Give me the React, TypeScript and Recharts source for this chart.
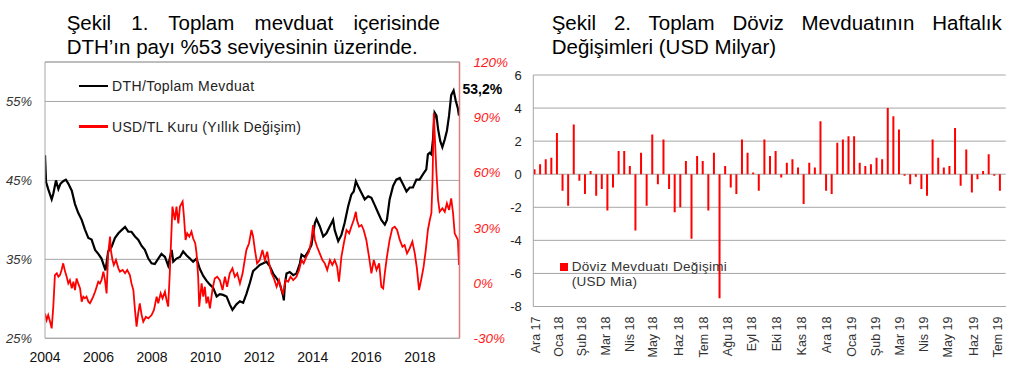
import {
  Bar,
  BarChart,
  CartesianGrid,
  LabelList,
  Legend,
  Line,
  LineChart,
  ReferenceLine,
  XAxis,
  YAxis,
} from "recharts";

const FONT = '"Liberation Sans", Arial, sans-serif';

// Şekil 1 — DTH share of total deposits (%) and USD/TL yearly change (%)
const dthPoints: [number, number][] = [
  [2004.0, 48.2], [2004.04, 44.8], [2004.12, 43.9], [2004.25, 42.6], [2004.31, 43.3], [2004.41, 45.0],
  [2004.5, 43.9], [2004.58, 44.6], [2004.68, 44.9], [2004.78, 45.1], [2004.87, 44.6], [2005.0, 43.7],
  [2005.12, 42.0], [2005.24, 40.9], [2005.37, 40.0], [2005.49, 38.8], [2005.62, 37.7], [2005.74, 37.5],
  [2005.87, 36.2], [2005.99, 35.7], [2006.11, 35.1], [2006.2, 34.2], [2006.26, 33.6], [2006.36, 36.0],
  [2006.49, 36.6], [2006.61, 37.7], [2006.74, 38.3], [2006.86, 38.7], [2006.99, 39.1], [2007.11, 38.5],
  [2007.23, 38.5], [2007.36, 37.9], [2007.48, 37.5], [2007.61, 36.7], [2007.73, 36.2], [2007.86, 35.1],
  [2007.98, 34.5], [2008.1, 34.4], [2008.23, 35.1], [2008.35, 35.7], [2008.48, 35.3], [2008.6, 34.2],
  [2008.73, 36.2], [2008.79, 34.7], [2008.91, 35.1], [2009.04, 35.3], [2009.16, 36.0], [2009.29, 35.5],
  [2009.41, 35.1], [2009.53, 34.7], [2009.66, 35.1], [2009.78, 33.8], [2009.91, 32.9], [2010.03, 32.3],
  [2010.16, 31.8], [2010.28, 31.4], [2010.41, 30.3], [2010.53, 30.6], [2010.65, 30.5], [2010.78, 30.3],
  [2010.9, 29.3], [2011.0, 28.6], [2011.15, 29.3], [2011.28, 29.7], [2011.4, 29.5], [2011.52, 30.6],
  [2011.65, 32.0], [2011.77, 33.5], [2011.9, 33.9], [2012.02, 34.3], [2012.15, 34.5], [2012.27, 34.7],
  [2012.4, 34.1], [2012.52, 33.2], [2012.65, 32.6], [2012.77, 31.9], [2012.89, 30.4], [2012.92, 29.8],
  [2012.96, 31.9], [2013.02, 33.2], [2013.14, 33.4], [2013.27, 33.0], [2013.39, 33.2], [2013.52, 34.5],
  [2013.58, 35.6], [2013.7, 35.3], [2013.83, 36.0], [2013.95, 36.8], [2014.08, 39.6], [2014.14, 40.1],
  [2014.26, 39.2], [2014.39, 37.9], [2014.51, 38.3], [2014.64, 39.2], [2014.76, 40.0], [2014.82, 38.7],
  [2014.95, 37.3], [2015.07, 38.1], [2015.19, 39.6], [2015.32, 41.7], [2015.44, 43.2], [2015.53, 43.6],
  [2015.61, 44.9], [2015.69, 44.3], [2015.82, 43.4], [2015.94, 42.6], [2016.07, 43.0], [2016.19, 42.8],
  [2016.31, 41.9], [2016.44, 40.9], [2016.56, 40.0], [2016.69, 39.4], [2016.77, 40.0], [2016.87, 42.6],
  [2017.0, 44.3], [2017.12, 45.1], [2017.25, 45.3], [2017.37, 44.5], [2017.5, 43.6], [2017.62, 44.1],
  [2017.74, 44.1], [2017.87, 45.1], [2017.99, 45.1], [2018.12, 45.8], [2018.24, 46.4], [2018.3, 48.3],
  [2018.37, 48.5], [2018.43, 48.3], [2018.49, 50.2], [2018.55, 53.6], [2018.62, 53.2], [2018.68, 51.5],
  [2018.76, 50.0], [2018.84, 49.2], [2018.93, 50.2], [2019.01, 51.3], [2019.09, 53.2], [2019.17, 55.8],
  [2019.26, 56.4], [2019.34, 55.1], [2019.42, 54.1], [2019.46, 53.2],
];

const usdTryPoints: [number, number][] = [
  [2004.0, -16.5], [2004.06, -20.1], [2004.12, -17.4], [2004.19, -21.0], [2004.25, -24.6], [2004.31, -12.8],
  [2004.37, 4.3], [2004.44, 5.3], [2004.5, 3.4], [2004.56, 4.3], [2004.62, 7.1], [2004.68, 10.7],
  [2004.75, 6.2], [2004.81, 3.4], [2004.87, -0.2], [2004.93, 1.6], [2005.0, -2.9], [2005.06, 0.7],
  [2005.12, -3.8], [2005.18, 2.5], [2005.24, -0.2], [2005.31, -2.9], [2005.37, -10.1], [2005.43, -7.4],
  [2005.49, -8.3], [2005.55, -7.4], [2005.62, -10.1], [2005.68, -11.0], [2005.74, -9.2], [2005.8, -7.4],
  [2005.87, -4.7], [2005.93, -2.0], [2005.99, 0.7], [2006.05, -0.2], [2006.11, 1.6], [2006.18, 6.2],
  [2006.24, 1.6], [2006.3, -5.6], [2006.36, 16.1], [2006.43, 25.2], [2006.46, 17.9], [2006.52, 12.5],
  [2006.57, 9.8], [2006.65, 12.5], [2006.74, 8.0], [2006.8, 6.2], [2006.9, 7.1], [2006.99, 5.3],
  [2007.07, 7.1], [2007.17, 4.3], [2007.23, -0.2], [2007.3, -3.8], [2007.36, -14.6], [2007.42, -23.7],
  [2007.48, -16.5], [2007.54, -11.0], [2007.61, -17.4], [2007.67, -21.0], [2007.77, -18.3], [2007.86, -19.2],
  [2007.98, -17.4], [2008.07, -14.6], [2008.17, -7.4], [2008.23, -11.0], [2008.32, -5.6], [2008.39, -8.3],
  [2008.48, -4.7], [2008.54, -9.2], [2008.6, -12.8], [2008.66, 5.3], [2008.73, 30.6], [2008.76, 41.5],
  [2008.85, 34.2], [2008.91, 41.5], [2008.98, 32.4], [2009.04, 41.5], [2009.14, 44.2], [2009.19, 36.0],
  [2009.25, 23.4], [2009.31, 27.0], [2009.39, 25.2], [2009.47, 27.9], [2009.53, 24.3], [2009.61, 21.6],
  [2009.66, 16.1], [2009.72, 3.4], [2009.76, -12.8], [2009.85, -0.2], [2009.91, -7.4], [2009.97, -2.0],
  [2010.03, -11.0], [2010.09, -7.4], [2010.16, -13.7], [2010.26, -2.9], [2010.34, 2.5], [2010.43, 3.4],
  [2010.53, 1.6], [2010.63, -3.8], [2010.72, 3.4], [2010.8, -2.0], [2010.9, 5.3], [2011.0, 8.0],
  [2011.09, 3.4], [2011.18, 5.3], [2011.28, -0.2], [2011.38, 5.3], [2011.46, 12.5], [2011.52, 17.9],
  [2011.62, 21.6], [2011.71, 28.8], [2011.77, 25.5], [2011.84, 17.9], [2011.92, 10.7], [2012.02, 12.5],
  [2012.12, 17.9], [2012.21, 12.5], [2012.3, 17.0], [2012.37, 10.7], [2012.46, 5.3], [2012.55, 2.5],
  [2012.65, -2.0], [2012.74, 1.6], [2012.83, -3.8], [2012.89, -5.6], [2012.99, 1.6], [2013.08, 0.7],
  [2013.17, 3.4], [2013.27, 1.6], [2013.39, 3.4], [2013.49, 7.1], [2013.58, 12.5], [2013.66, 10.7],
  [2013.76, 14.3], [2013.86, 17.0], [2013.95, 23.4], [2014.01, 31.5], [2014.08, 23.4], [2014.16, 19.7],
  [2014.26, 16.1], [2014.36, 12.5], [2014.45, 10.7], [2014.54, 7.1], [2014.64, 12.5], [2014.73, 9.8],
  [2014.82, 12.5], [2014.91, 8.9], [2014.98, 0.7], [2015.07, 14.3], [2015.16, 21.6], [2015.26, 28.8],
  [2015.36, 27.0], [2015.44, 30.6], [2015.53, 34.2], [2015.61, 38.7], [2015.65, 34.2], [2015.73, 30.6],
  [2015.82, 31.5], [2015.9, 28.8], [2016.0, 23.4], [2016.1, 14.3], [2016.19, 5.3], [2016.28, 12.5],
  [2016.38, 7.1], [2016.48, 10.7], [2016.56, -2.0], [2016.63, -2.9], [2016.69, 5.3], [2016.77, 14.3],
  [2016.87, 23.4], [2016.97, 29.7], [2017.06, 30.6], [2017.15, 28.8], [2017.25, 23.4], [2017.35, 19.7],
  [2017.43, 20.6], [2017.52, 16.1], [2017.62, 18.8], [2017.72, 22.5], [2017.81, 16.1], [2017.89, 8.0],
  [2017.97, -3.8], [2018.06, 2.5], [2018.14, 8.9], [2018.22, 17.9], [2018.3, 28.8], [2018.37, 34.2],
  [2018.43, 37.9], [2018.47, 54.1], [2018.52, 92.1], [2018.57, 75.8], [2018.62, 59.6], [2018.68, 45.1],
  [2018.74, 38.7], [2018.84, 40.6], [2018.93, 38.7], [2019.01, 43.3], [2019.09, 39.7], [2019.17, 46.0],
  [2019.24, 37.9], [2019.3, 27.0], [2019.36, 25.2], [2019.42, 23.4], [2019.46, 9.8],
];

const yearTicks = [2004, 2006, 2008, 2010, 2012, 2014, 2016, 2018];
const shareTicks = [25, 35, 45, 55];
const fxTicks = [-30, 0, 30, 60, 90, 120];

// Şekil 2 — weekly change of FX deposits (USD bn)
const weeklyChanges = [
  0.3, 0.6, 0.9, 1.0, 2.5, -1.0, -1.9, 3.0, -0.4, -1.2, 0.2, -1.3, -0.9, -2.2, -0.8, 1.4, 1.4, 0.5,
  -3.4, 1.3, -1.9, 2.4, -0.6, 2.1, -0.9, -2.3, -2.0, 0.8, -3.9, 1.1, 0.8, -2.2, 1.3, -7.5, 0.5, -0.8,
  -1.2, 2.1, 1.3, 0.1, -1.0, 2.1, 1.1, 1.4, -0.2, 0.7, 0.9, 0.4, -1.8, 0.7, 0.4, 3.2, -1.0, -1.2,
  1.9, 2.1, 2.3, 2.3, 0.7, 0.5, 0.6, 1.0, 0.9, 4.0, 3.5, 2.7, -0.1, -0.6, -0.15, -0.9, -1.3, 2.1,
  1.0, 0.4, 0.5, 2.8, -0.7, 1.5, -1.1, -0.3, 0.2, 1.2, -0.1, -1.0,
];
const monthLabels = [
  "Ara 17", "Oca 18", "Şub 18", "Mar 18", "Nis 18", "May 18", "Haz 18", "Tem 18", "Ağu 18", "Eyl 18",
  "Eki 18", "Kas 18", "Ara 18", "Oca 19", "Şub 19", "Mar 19", "Nis 19", "May 19", "Haz 19", "Tem 19",
];
// week index (from the first bar) at which each month starts
const monthStarts = [
  0.3, 4.28, 8.45, 12.73, 17.07, 21.17, 25.8, 30.27, 34.55, 38.8,
  43.3, 47.7, 52.1, 56.6, 60.9, 65.2, 69.5, 73.8, 78.3, 82.6,
];
const changeTicks = [-8, -6, -4, -2, 0, 2, 4, 6];

const GRID = "#a6a6a6";

function ShareLegend({ payload }: any) {
  return (
    <div style={{ fontFamily: FONT, fontSize: 14, color: "#222", textAlign: "left" }}>
      {(payload || []).map((item: any, i: number) => (
        <div
          key={item.value}
          style={{ display: "flex", alignItems: "center", height: 40.7, letterSpacing: i === 0 ? 0.4 : 0.3 }}
        >
          <span style={{ width: 29, height: 2.5, background: item.color, marginRight: 4 }} />
          <span>{item.value}</span>
        </div>
      ))}
    </div>
  );
}

function LastValueLabel(props: any) {
  const { x, y, index, value } = props;
  if (index !== dthPoints.length - 1) return null;
  return (
    <text x={x + 3.5} y={y - 26.5} dy="0.35em" fontFamily={FONT} fontSize={14} fontWeight="bold" fill="#000">
      {`${Number(value).toFixed(1).replace(".", ",")}%`}
    </text>
  );
}

function ShareChart() {
  const dth = dthPoints.map(([t, v]) => ({ t, v }));
  const fx = usdTryPoints.map(([t, v]) => ({ t, v }));
  return (
    <LineChart width={1027} height={374} margin={{ top: 62, right: 512.5, bottom: 5.7, left: 5 }}>
      <CartesianGrid yAxisId="share" vertical={false} stroke={GRID} />
      <XAxis
        dataKey="t"
        type="number"
        domain={[2004, 2019.48]}
        allowDataOverflow
        ticks={yearTicks}
        interval={0}
        height={30}
        tickSize={0}
        tickMargin={13.5}
        tickLine={false}
        axisLine={{ stroke: GRID }}
        tick={{ fill: "#111", fontSize: 14, fontFamily: FONT }}
      />
      <YAxis
        yAxisId="share"
        domain={[25, 60]}
        ticks={shareTicks}
        interval={0}
        width={40}
        tickSize={0}
        tickMargin={13}
        tickLine={false}
        axisLine={{ stroke: GRID }}
        tickFormatter={(v) => `${v}%`}
        tick={{ fill: "#333", fontSize: 13, fontStyle: "italic", fontFamily: FONT }}
      />
      <YAxis
        yAxisId="fx"
        orientation="right"
        domain={[-30, 120]}
        ticks={fxTicks}
        interval={0}
        width={55}
        tickSize={0}
        tickMargin={14}
        tickLine={false}
        axisLine={{ stroke: "#e07b7b", strokeWidth: 1.5 }}
        tickFormatter={(v) => `${v}%`}
        tick={{ fill: "#ff1a1a", fontSize: 13.5, fontStyle: "italic", fontFamily: FONT }}
      />
      <ReferenceLine yAxisId="share" y={60} stroke={GRID} />
      <Line
        yAxisId="share"
        data={dth}
        dataKey="v"
        name="DTH/Toplam Mevduat"
        stroke="#000"
        strokeWidth={2.2}
        dot={false}
        isAnimationActive={false}
      >
        <LabelList dataKey="v" content={LastValueLabel} />
      </Line>
      <Line
        yAxisId="fx"
        data={fx}
        dataKey="v"
        name="USD/TL Kuru (Yıllık Değişim)"
        stroke="#ff0000"
        strokeWidth={1.8}
        dot={false}
        isAnimationActive={false}
      />
      <Legend
        layout="horizontal"
        verticalAlign="middle"
        align="center"
        content={ShareLegend}
        wrapperStyle={{ top: 65.7, left: 79, width: 260 }}
      />
    </LineChart>
  );
}

function MonthTick({ x, y, payload }: any) {
  const idx = monthStarts.indexOf(payload.value);
  return (
    <text
      x={x}
      y={y}
      transform={`rotate(-90 ${x} ${y})`}
      textAnchor="end"
      dy="0.35em"
      fontFamily={FONT}
      fontSize={12.5}
      fill="#333"
    >
      {monthLabels[idx]}
    </text>
  );
}

function ChangeLegend() {
  return (
    <div
      style={{ fontFamily: FONT, fontSize: 13.5, color: "#333", lineHeight: "15px", letterSpacing: 0.3, textAlign: "left" }}
    >
      <div style={{ display: "flex", alignItems: "center" }}>
        <span style={{ width: 7.5, height: 8, background: "#ff0000", marginRight: 4.2 }} />
        <span>Döviz Mevduatı Değişimi</span>
      </div>
      <div style={{ paddingLeft: 11.7 }}>(USD Mia)</div>
    </div>
  );
}

function ChangeChart() {
  const rows = weeklyChanges.map((v, week) => ({ week, v }));
  return (
    <BarChart width={1027} height={374} data={rows} margin={{ top: 75, right: 21.3, bottom: 17.5, left: 503.3 }}>
      <CartesianGrid vertical={false} stroke={GRID} />
      <XAxis
        dataKey="week"
        type="number"
        domain={[-0.18, 84.07]}
        allowDataOverflow
        ticks={monthStarts}
        interval={0}
        height={50}
        tickSize={0}
        tickMargin={10}
        tickLine={false}
        axisLine={{ stroke: GRID }}
        tick={<MonthTick />}
      />
      <YAxis
        domain={[-8, 6]}
        ticks={changeTicks}
        interval={0}
        width={30}
        tickSize={0}
        tickMargin={11.6}
        tickLine={false}
        axisLine={{ stroke: GRID }}
        tick={{ fill: "#222", fontSize: 13, fontFamily: FONT }}
      />
      <YAxis yAxisId="frame" orientation="right" width={0} tick={false} tickLine={false} axisLine={{ stroke: GRID }} />
      <Bar dataKey="v" name="Döviz Mevduatı Değişimi (USD Mia)" fill="#ff0000" barSize={2} isAnimationActive={false} />
      <Legend
        layout="horizontal"
        verticalAlign="middle"
        align="center"
        content={ChangeLegend}
        wrapperStyle={{ top: 259.2, left: 560, width: 200 }}
      />
    </BarChart>
  );
}

const titleLine = { height: 24.4, whiteSpace: "nowrap" as const };

export default function App() {
  return (
    <div style={{ position: "absolute", left: 0, top: 0, width: 1027, height: 374, background: "#fff", overflow: "hidden" }}>
      <div style={{ position: "absolute", left: 0, top: 0 }}>
        <ShareChart />
      </div>
      <div style={{ position: "absolute", left: 0, top: 0 }}>
        <ChangeChart />
      </div>
      <div
        style={{
          position: "absolute",
          left: 66.7,
          top: 10.7,
          width: 373.3,
          fontFamily: FONT,
          fontSize: 20.5,
          lineHeight: "24.4px",
          color: "#000",
        }}
      >
        <div style={{ textAlign: "justify", textAlignLast: "justify", height: 24.4 }}>
          Şekil 1. Toplam mevduat içerisinde
        </div>
        <div style={titleLine}>DTH’ın payı %53 seviyesinin üzerinde.</div>
      </div>
      <div
        style={{
          position: "absolute",
          left: 551.7,
          top: 10.7,
          width: 450,
          fontFamily: FONT,
          fontSize: 20.5,
          lineHeight: "24.4px",
          color: "#000",
        }}
      >
        <div style={{ textAlign: "justify", textAlignLast: "justify", height: 24.4 }}>
          Şekil 2. Toplam Döviz Mevduatının Haftalık
        </div>
        <div style={titleLine}>Değişimleri (USD Milyar)</div>
      </div>
    </div>
  );
}
